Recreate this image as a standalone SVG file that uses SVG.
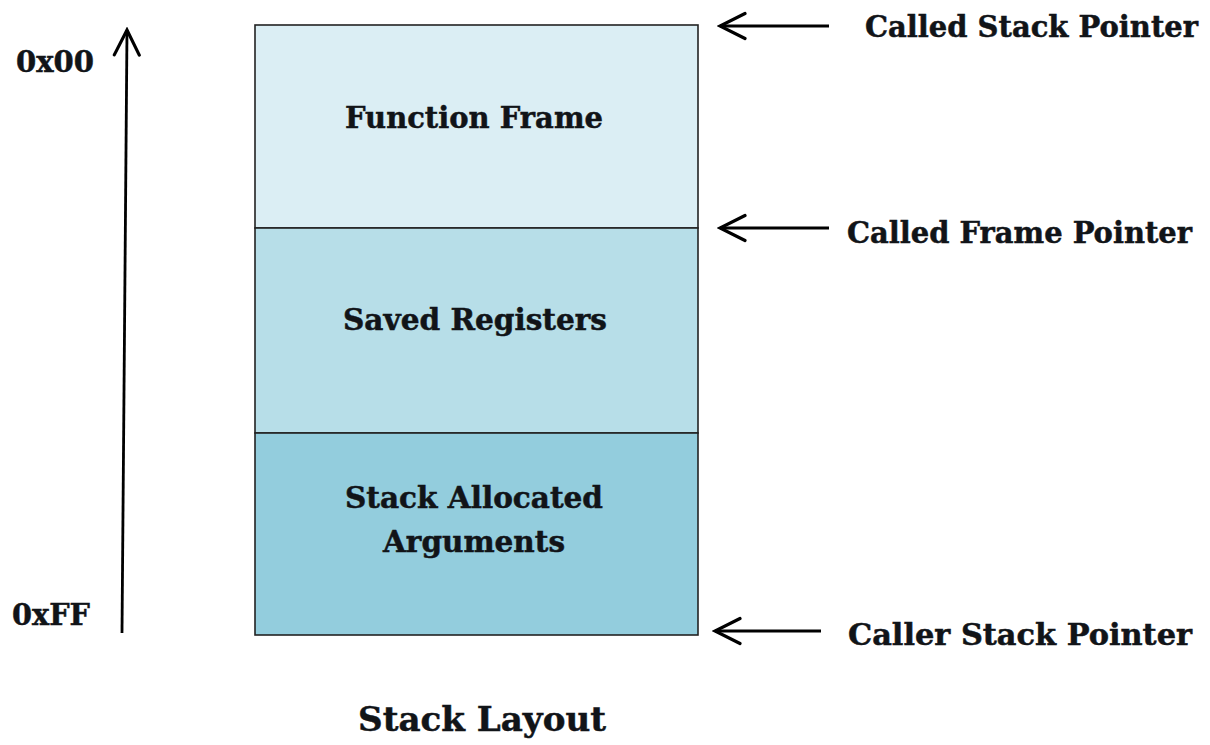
<svg xmlns="http://www.w3.org/2000/svg" width="1210" height="745" viewBox="0 0 1210 745">
  <style>
    .lbl { font-family: "DejaVu Serif", "Liberation Serif", serif; font-weight: bold; font-size: 29px; fill: #111418; stroke: #111418; stroke-width: 0.5; }
    .title { font-size: 34px; }
    .seg { stroke: #222; stroke-width: 1.6; }
    .wire { fill: none; stroke: #000; stroke-width: 2.8; marker-end: url(#chev); }
  </style>
  <defs>
    <marker id="chev" viewBox="-28 -15 31 30" refX="0" refY="0" markerWidth="31" markerHeight="30" markerUnits="userSpaceOnUse" orient="auto">
      <path d="M-25,-12.5 L0,0 L-25,12.5" fill="none" stroke="#000" stroke-width="3.2" stroke-linecap="round" stroke-linejoin="miter"/>
    </marker>
  </defs>
  <rect width="1210" height="745" fill="#fff"/>

  <!-- address direction axis -->
  <g id="axis">
    <text class="lbl" x="16" y="72" textLength="78" lengthAdjust="spacingAndGlyphs">0x00</text>
    <text class="lbl" x="12" y="625" textLength="78" lengthAdjust="spacingAndGlyphs">0xFF</text>
  </g>

  <!-- stack segments -->
  <g id="function-frame">
    <rect class="seg" x="255" y="25" width="443" height="203" fill="#DBEEF4"/>
    <text class="lbl" x="345" y="128" textLength="258" lengthAdjust="spacingAndGlyphs">Function Frame</text>
  </g>
  <g id="saved-registers">
    <rect class="seg" x="255" y="228" width="443" height="205" fill="#B7DEE8"/>
    <text class="lbl" x="343" y="330" textLength="264" lengthAdjust="spacingAndGlyphs">Saved Registers</text>
  </g>
  <g id="stack-args">
    <rect class="seg" x="255" y="433" width="443" height="202" fill="#93CDDD"/>
    <text class="lbl" x="345" y="508" textLength="258" lengthAdjust="spacingAndGlyphs">Stack Allocated</text>
    <text class="lbl" x="383" y="552" textLength="182" lengthAdjust="spacingAndGlyphs">Arguments</text>
  </g>

  <!-- pointer labels -->
  <g id="called-sp">
    <text class="lbl" x="865" y="37" textLength="333" lengthAdjust="spacingAndGlyphs">Called Stack Pointer</text>
  </g>
  <g id="called-fp">
    <text class="lbl" x="847" y="243" textLength="345" lengthAdjust="spacingAndGlyphs">Called Frame Pointer</text>
  </g>
  <g id="caller-sp">
    <text class="lbl" x="848" y="645" textLength="344" lengthAdjust="spacingAndGlyphs">Caller Stack Pointer</text>
  </g>

  <g id="caption">
    <text class="lbl title" x="358" y="731" textLength="248" lengthAdjust="spacingAndGlyphs">Stack Layout</text>
  </g>

  <!-- connectors -->
  <g id="connectors">
    <path class="wire" d="M122,633 L127,30"/>
    <path class="wire" d="M829,26 L720,26"/>
    <path class="wire" d="M829,228 L720,228"/>
    <path class="wire" d="M821,631 L715,631"/>
  </g>
</svg>
